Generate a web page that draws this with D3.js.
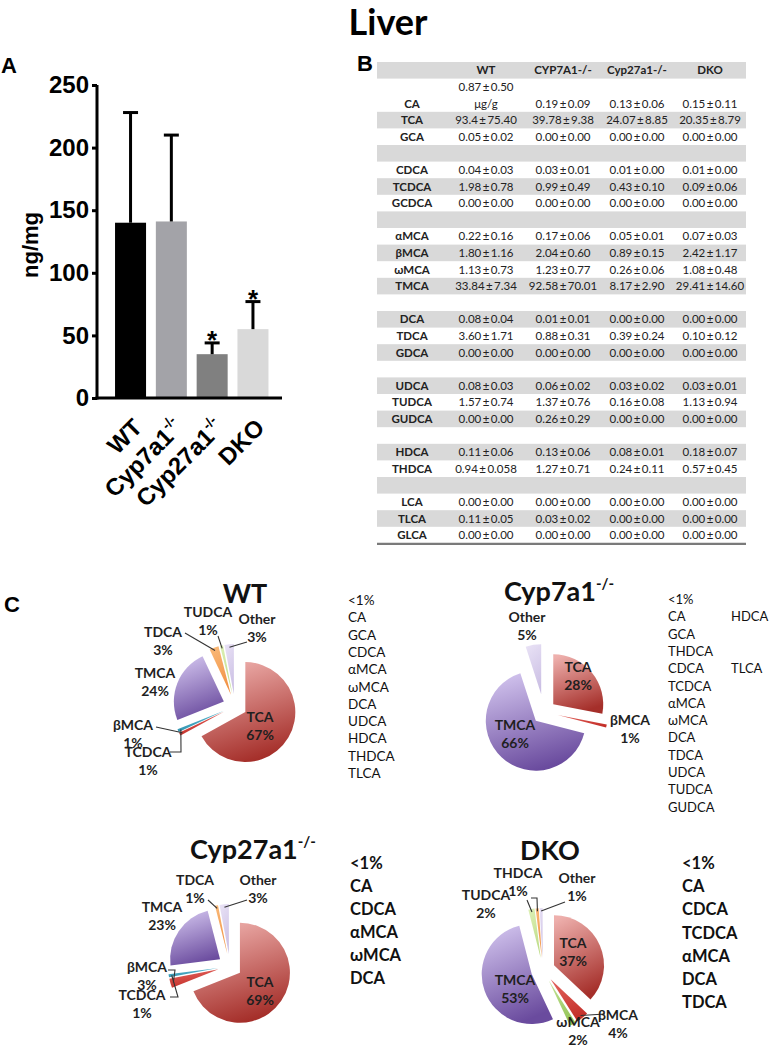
<!DOCTYPE html>
<html><head><meta charset="utf-8">
<script src="https://cdn.jsdelivr.net/npm/d3@7"></script>
<style>body{margin:0;background:#fff}</style>
</head><body>
<svg id="c" width="769" height="1050"></svg>
<script>
// ---------- Panel A data ----------
const groups = ["WT", "Cyp7a1", "Cyp27a1", "DKO"];
const groupSup = ["", "-/-", "-/-", ""];
const means = [140, 141, 35, 55];
const errTop = [228, 210, 44, 77];
const significant = [false, false, true, true];
const yTicks = [0, 50, 100, 150, 200, 250];
const barColors = ["#000000", "#a3a3a8", "#808080", "#d9d9d9"];

// ---------- Panel B data ----------
const tableCols = ["WT", "CYP7A1-/-", "Cyp27a1-/-", "DKO"];
const tableRows = ["CA","TCA","GCA","","CDCA","TCDCA","GCDCA","","αMCA","βMCA","ωMCA","TMCA","","DCA","TDCA","GDCA","","UDCA","TUDCA","GUDCA","","HDCA","THDCA","","LCA","TLCA","GLCA"];
const valWT = ["0.87±0.50","93.4±75.40","0.05±0.02","","0.04±0.03","1.98±0.78","0.00±0.00","","0.22±0.16","1.80±1.16","1.13±0.73","33.84±7.34","","0.08±0.04","3.60±1.71","0.00±0.00","","0.08±0.03","1.57±0.74","0.00±0.00","","0.11±0.06","0.94±0.058","","0.00±0.00","0.11±0.05","0.00±0.00"];
const valCyp7a1 = ["0.19±0.09","39.78±9.38","0.00±0.00","","0.03±0.01","0.99±0.49","0.00±0.00","","0.17±0.06","2.04±0.60","1.23±0.77","92.58±70.01","","0.01±0.01","0.88±0.31","0.00±0.00","","0.06±0.02","1.37±0.76","0.26±0.29","","0.13±0.06","1.27±0.71","","0.00±0.00","0.03±0.02","0.00±0.00"];
const valCyp27a1 = ["0.13±0.06","24.07±8.85","0.00±0.00","","0.01±0.00","0.43±0.10","0.00±0.00","","0.05±0.01","0.89±0.15","0.26±0.06","8.17±2.90","","0.00±0.00","0.39±0.24","0.00±0.00","","0.03±0.02","0.16±0.08","0.00±0.00","","0.08±0.01","0.24±0.11","","0.00±0.00","0.00±0.00","0.00±0.00"];
const valDKO = ["0.15±0.11","20.35±8.79","0.00±0.00","","0.01±0.00","0.09±0.06","0.00±0.00","","0.07±0.03","2.42±1.17","1.08±0.48","29.41±14.60","","0.00±0.00","0.10±0.12","0.00±0.00","","0.03±0.01","1.13±0.94","0.00±0.00","","0.18±0.07","0.57±0.45","","0.00±0.00","0.00±0.00","0.00±0.00"];
const caUnit = "μg/g";

// ---------- Panel C data ----------
const pieWTNames = ["TCA","βMCA","TCDCA","TMCA","TDCA","TUDCA","Other"];
const pieWTValues = [67, 1, 1, 24, 3, 1, 3];
const pieCyp7a1Names = ["TCA","βMCA","TMCA","Other"];
const pieCyp7a1Values = [28, 1, 66, 5];
const pieCyp27a1Names = ["TCA","βMCA","TCDCA","TMCA","TDCA","Other"];
const pieCyp27a1Values = [69, 3, 1, 23, 1, 3];
const pieDKONames = ["TCA","βMCA","ωMCA","TMCA","TUDCA","THDCA","Other"];
const pieDKOValues = [37, 4, 2, 53, 2, 1, 1];
const legendWT = ["<1%","CA","GCA","CDCA","αMCA","ωMCA","DCA","UDCA","HDCA","THDCA","TLCA"];
const legendCyp7a1 = ["<1%","CA","GCA","THDCA","CDCA","TCDCA","αMCA","ωMCA","DCA","TDCA","UDCA","TUDCA","GUDCA"];
const legendCyp7a1b = ["","HDCA","","","TLCA"];
const legendCyp27a1 = ["<1%","CA","CDCA","αMCA","ωMCA","DCA"];
const legendDKO = ["<1%","CA","CDCA","TCDCA","αMCA","DCA","TDCA"];

// ---------- styles ----------
const sliceColors = {
  "TCA": ["#eeb0ad", "#a52f2a"],
  "TMCA": ["#d2c4ee", "#6a4b9e"],
  "βMCA": ["#e2625c", "#c32e28"],
  "TCDCA": ["#63bfd6", "#2b8eab"],
  "TDCA": ["#f9b877", "#f19142"],
  "THDCA": ["#f9b877", "#f19142"],
  "TUDCA": ["#dcefb4", "#bcdc86"],
  "ωMCA": ["#c2e296", "#93c456"],
  "Other": ["#e8e1f5", "#cbbfe4"]
};
const ARIAL = "'Liberation Sans', Arial, sans-serif";
const LATO = "Lato, 'Open Sans', sans-serif";

const svg = d3.select("#c");
svg.append("rect").attr("width", 769).attr("height", 1050).attr("fill", "#fff");
const defs = svg.append("defs");

// Title
svg.append("text").attr("x", 388).attr("y", 35).attr("text-anchor", "middle")
  .attr("font-family", LATO).attr("font-weight", "bold").attr("font-size", 36).text("Liver");

// Panel letters
[["A", 1, 73], ["B", 357, 71], ["C", 4, 612]].forEach(([t, x, y]) =>
  svg.append("text").attr("x", x).attr("y", y).attr("font-family", ARIAL)
    .attr("font-weight", "bold").attr("font-size", 22).text(t));

// ================= Panel A =================
const y = d3.scaleLinear().domain([0, 250]).range([398, 85]);
const x = d3.scaleBand().domain(groups).range([102.8, 280.7]).paddingInner(0.24).paddingOuter(0.3);
const gA = svg.append("g");

gA.selectAll("rect.bar").data(groups).join("rect").attr("class", "bar")
  .attr("x", d => x(d)).attr("width", x.bandwidth())
  .attr("y", (d, i) => y(means[i])).attr("height", (d, i) => y(0) - y(means[i]))
  .attr("fill", (d, i) => barColors[i]);

// error bars (upper only)
const eb = gA.selectAll("g.err").data(groups).join("g").attr("class", "err");
eb.append("line").attr("x1", d => x(d) + x.bandwidth() / 2).attr("x2", d => x(d) + x.bandwidth() / 2)
  .attr("y1", (d, i) => y(means[i])).attr("y2", (d, i) => y(errTop[i]))
  .attr("stroke", "#000").attr("stroke-width", 3);
eb.append("line").attr("x1", d => x(d) + x.bandwidth() / 2 - 7.5).attr("x2", d => x(d) + x.bandwidth() / 2 + 7.5)
  .attr("y1", (d, i) => y(errTop[i])).attr("y2", (d, i) => y(errTop[i]))
  .attr("stroke", "#000").attr("stroke-width", 3);
gA.selectAll("text.star").data(groups.filter((d, i) => significant[i])).join("text").attr("class", "star")
  .attr("x", d => x(d) + x.bandwidth() / 2)
  .attr("y", d => y(errTop[groups.indexOf(d)]) + 6)
  .attr("text-anchor", "middle").attr("font-family", ARIAL).attr("font-weight", "bold")
  .attr("font-size", 26).text("*");

// axes
const yAxis = d3.axisLeft(y).tickValues(yTicks).tickSize(5).tickSizeOuter(0).tickPadding(3);
const ga = gA.append("g").attr("transform", "translate(97,0)").call(yAxis);
ga.select(".domain").attr("stroke-width", 3).attr("d", "M0,85V399.5");
ga.selectAll(".tick line").attr("stroke-width", 3);
ga.selectAll(".tick text").attr("font-family", ARIAL).attr("font-weight", "bold").attr("font-size", 24).attr("fill", "#000");
gA.append("line").attr("x1", 95.5).attr("x2", 282).attr("y1", 398).attr("y2", 398)
  .attr("stroke", "#000").attr("stroke-width", 3);

gA.append("text").attr("transform", "translate(38,245) rotate(-90)").attr("text-anchor", "middle")
  .attr("font-family", ARIAL).attr("font-weight", "bold").attr("font-size", 22).text("ng/mg");

// x labels
groups.forEach((g, i) => {
  const cx = x(g) + x.bandwidth() / 2;
  const t = gA.append("text").attr("transform", `translate(${cx + 13},${429}) rotate(-45)`)
    .attr("text-anchor", "end").attr("font-family", ARIAL).attr("font-weight", "bold").attr("font-size", 24);
  t.append("tspan").text(g);
  if (groupSup[i]) t.append("tspan").attr("dy", -11).attr("font-size", 14).text(groupSup[i]);
});

// ================= Panel B =================
const tX0 = 377, tX1 = 746, tY0 = 62, rowH = 16.6;
const colX = [412, 486, 563, 637, 710];
const colVals = [valWT, valCyp7a1, valCyp27a1, valDKO];
const fmt = s => s.replace("±", "\u2009±\u2009");
const gB = svg.append("g").attr("font-family", LATO).attr("font-size", 11.5).attr("fill", "#222");
// header
gB.append("rect").attr("x", tX0).attr("y", tY0).attr("width", tX1 - tX0).attr("height", rowH).attr("fill", "#d9d9d9");
tableCols.forEach((c, j) => gB.append("text").attr("x", colX[j + 1]).attr("y", tY0 + rowH / 2 + 4)
  .attr("text-anchor", "middle").attr("font-weight", "bold").text(c));
let unit = 1;
tableRows.forEach((r, i) => {
  const h = i === 0 ? 2 : 1;
  const yTop = tY0 + unit * rowH;
  if ((i + 1) % 2 === 0) gB.append("rect").attr("x", tX0).attr("y", yTop).attr("width", tX1 - tX0)
    .attr("height", rowH * h).attr("fill", "#d9d9d9");
  const yb = yTop + rowH * (h - 0.5) + 4;
  gB.append("text").attr("x", colX[0]).attr("y", yb).attr("text-anchor", "middle").attr("font-weight", "bold").text(r);
  colVals.forEach((vals, j) => {
    if (i === 0 && j === 0) {
      gB.append("text").attr("x", colX[1]).attr("y", yb - rowH).attr("text-anchor", "middle").text(fmt(vals[i]));
      gB.append("text").attr("x", colX[1]).attr("y", yb).attr("text-anchor", "middle").text(caUnit);
    } else {
      gB.append("text").attr("x", colX[j + 1]).attr("y", yb).attr("text-anchor", "middle").text(fmt(vals[i]));
    }
  });
  unit += h;
});
gB.append("line").attr("x1", tX0).attr("x2", tX1).attr("y1", tY0 + unit * rowH + 0.5).attr("y2", tY0 + unit * rowH + 0.5)
  .attr("stroke", "#7a7a7a").attr("stroke-width", 2.2);

// ================= Panel C =================
const pies = [
  { names: pieWTNames, values: pieWTValues, cx: 235, cy: 706, r: 50,
    title: "WT", sup: "", tx: 245, ty: 603,
    legend: [legendWT], lx: [348], ly: 605, lstep: 17.3, lsize: 13.5, lbold: false,
    labels: { "TCA": [25, 11], "TMCA": [-80, -33], "TDCA": [-72, -74], "TUDCA": [-27, -94], "Other": [22, -87],
      "βMCA": [-102, 19], "TCDCA": [-87, 46] },
    leaders: { "TDCA": [[-50, -73]], "Other": [[12, -64]], "TUDCA": [[-17, -70]],
      "βMCA": [[-79, 21]], "TCDCA": [[-65, 46], [-54, 46]] } },
  { names: pieCyp7a1Names, values: pieCyp7a1Values, cx: 544, cy: 712, r: 50,
    title: "Cyp7a1", sup: "-/-", tx: 559, ty: 601,
    legend: [legendCyp7a1, legendCyp7a1b], lx: [668, 731], ly: 604, lstep: 17.3, lsize: 13, lbold: false,
    labels: { "TCA": [34, -45], "TMCA": [-29, 13], "βMCA": [86, 8], "Other": [-17, -95] },
    explode: { "Other": 18, "βMCA": 14 },
    leaders: {} },
  { names: pieCyp27a1Names, values: pieCyp27a1Values, cx: 230, cy: 966, r: 50,
    title: "Cyp27a1", sup: "-/-", tx: 253, ty: 859,
    legend: [legendCyp27a1], lx: [350], ly: 869, lstep: 23, lsize: 16.5, lbold: true,
    labels: { "TCA": [30, 16], "TMCA": [-68, -59], "TDCA": [-35, -86], "Other": [28, -86],
      "βMCA": [-83, 1], "TCDCA": [-88, 29] },
    leaders: { "TDCA": [[-22, -66]], "Other": [[17, -66]], "βMCA": [[-62, 4], [-55, 4]],
      "TCDCA": [[-60, 31], [-52, 31]] } },
  { names: pieDKONames, values: pieDKOValues, cx: 543, cy: 970, r: 50,
    title: "DKO", sup: "", tx: 550, ty: 860,
    legend: [legendDKO], lx: [682], ly: 869, lstep: 23.2, lsize: 16.5, lbold: true,
    labels: { "TCA": [30, -27], "TMCA": [-28, 10], "THDCA": [-25, -97], "TUDCA": [-57, -75], "Other": [34, -92],
      "βMCA": [75, 45], "ωMCA": [35, 52] },
    leaders: { "THDCA": [[-12, -72], [-6, -72]], "Other": [[22, -68]], "TUDCA": [[-16, -70]], "βMCA": [[62, 44]] } }
];

const pieGen = d3.pie().sort(null).value(d => d.v).startAngle(0).endAngle(2 * Math.PI);
let gid = 0;
pies.forEach(p => {
  const g = svg.append("g");
  const data = p.names.map((n, i) => ({ n, v: p.values[i] }));
  const arcs = pieGen(data);
  const arc = d3.arc().innerRadius(0).outerRadius(p.r);
  const ex = d => (p.explode && p.explode[d.data.n]) || 12;
  const dir = d => { const m = (d.startAngle + d.endAngle) / 2; return [Math.sin(m), -Math.cos(m)]; };
  arcs.forEach(d => {
    const id = "grad" + (gid++);
    const [c0, c1] = sliceColors[d.data.n];
    const lg = defs.append("linearGradient").attr("id", id).attr("x1", 0.2).attr("y1", 0).attr("x2", 0.5).attr("y2", 1);
    lg.append("stop").attr("offset", 0).attr("stop-color", c0);
    lg.append("stop").attr("offset", 1).attr("stop-color", c1);
    const [dx, dy] = dir(d);
    g.append("path").attr("d", arc(d))
      .attr("transform", `translate(${p.cx + dx * ex(d)},${p.cy + dy * ex(d)})`)
      .attr("fill", `url(#${id})`);
  });
  // leaders
  arcs.forEach(d => {
    const pts = p.leaders[d.data.n];
    if (!pts) return;
    const [dx, dy] = dir(d);
    const rr = p.r + ex(d) - 3;
    const all = pts.map(q => [p.cx + q[0], p.cy + q[1]]).concat([[p.cx + dx * rr, p.cy + dy * rr]]);
    g.append("path").attr("d", d3.line()(all)).attr("fill", "none").attr("stroke", "#333").attr("stroke-width", 1.1);
  });
  // labels
  arcs.forEach(d => {
    const L = p.labels[d.data.n];
    if (!L) return;
    const t = g.append("text").attr("text-anchor", "middle").attr("font-family", LATO)
      .attr("font-weight", "bold").attr("font-size", 14).attr("fill", "#1f1f1f");
    t.append("tspan").attr("x", p.cx + L[0]).attr("y", p.cy + L[1] + 5).text(d.data.n);
    t.append("tspan").attr("x", p.cx + L[0]).attr("y", p.cy + L[1] + 23).text(d.data.v + "%");
  });
  // title
  const tt = g.append("text").attr("x", p.tx).attr("y", p.ty).attr("text-anchor", "middle")
    .attr("font-family", LATO).attr("font-weight", "bold").attr("font-size", 27).attr("fill", "#111");
  tt.append("tspan").text(p.title);
  if (p.sup) tt.append("tspan").attr("dy", -12).attr("font-size", 15).text(p.sup);
  // legend
  p.legend.forEach((col, ci) => {
    col.forEach((s, k) => {
      if (!s) return;
      g.append("text").attr("x", p.lx[ci]).attr("y", p.ly + k * p.lstep)
        .attr("font-family", LATO).attr("font-weight", p.lbold ? "bold" : "normal")
        .attr("font-size", p.lsize).attr("fill", "#111").text(s);
    });
  });
});
</script>
</body></html>
